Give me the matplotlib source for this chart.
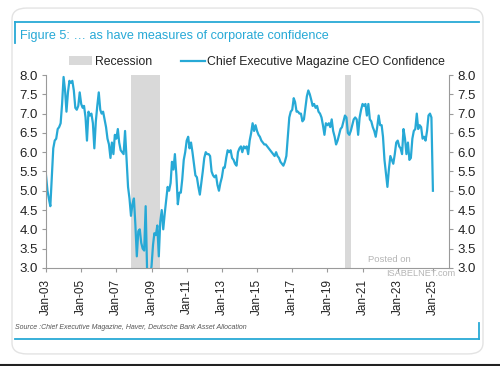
import matplotlib
matplotlib.use('Agg')
import matplotlib.pyplot as plt
import matplotlib.dates as mdates
from matplotlib.patches import FancyBboxPatch, Patch
from matplotlib.lines import Line2D
import pandas as pd

plt.rcParams['font.family'] = ['Liberation Sans', 'DejaVu Sans']

# monthly CEO confidence, Jan 2003 onwards (one row per year)
ceo_2003 = [5.4, 5.0, 4.8, 4.6, 5.35, 6.1, 6.3, 6.35, 6.6, 6.65, 6.75, 7.25]
ceo_2004 = [7.95, 7.6, 7.05, 7.55, 7.85, 7.8, 7.85, 7.6, 7.15, 7.1, 7.2, 7.55]
ceo_2005 = [7.25, 7.15, 7.2, 6.9, 6.3, 7.05, 6.95, 7.0, 6.75, 6.1, 6.8, 7.2]
ceo_2006 = [7.55, 7.1, 7.0, 7.05, 6.85, 6.65, 6.35, 6.2, 5.85, 6.25, 5.95, 6.45]
ceo_2007 = [6.35, 6.6, 6.25, 6.05, 6.0, 5.95, 6.55, 5.8, 5.1, 4.8, 4.35, 4.65]
ceo_2008 = [4.8, 4.1, 3.3, 3.95, 4.0, 3.65, 3.5, 3.45, 4.6, 2.9, 2.7, 2.75]
ceo_2009 = [3.05, 3.6, 3.9, 3.85, 4.1, 3.3, 4.2, 4.5, 4.0, 4.4, 4.75, 5.1]
ceo_2010 = [5.0, 5.2, 5.75, 5.55, 5.95, 5.4, 4.65, 4.95, 4.95, 5.3, 5.8, 6.0]
ceo_2011 = [6.3, 6.4, 6.1, 6.25, 6.0, 5.7, 5.4, 5.35, 5.1, 4.9, 5.2, 5.5]
ceo_2012 = [5.85, 6.0, 5.95, 5.95, 5.9, 5.5, 5.4, 5.35, 5.4, 5.15, 5.0, 5.2]
ceo_2013 = [5.35, 5.6, 5.6, 5.85, 6.05, 6.0, 6.05, 5.85, 5.8, 5.7, 5.65, 6.0]
ceo_2014 = [6.1, 6.15, 6.0, 6.15, 6.1, 6.15, 5.95, 6.3, 6.5, 6.75, 6.55, 6.7]
ceo_2015 = [6.55, 6.45, 6.4, 6.3, 6.25, 6.2, 6.2, 6.15, 6.1, 6.05, 6.0, 5.95]
ceo_2016 = [5.9, 6.0, 5.9, 5.85, 5.75, 5.7, 5.65, 5.75, 5.9, 6.4, 6.9, 7.05]
ceo_2017 = [7.1, 7.4, 7.3, 7.05, 7.05, 7.0, 7.0, 6.8, 6.85, 7.15, 7.45, 7.6]
ceo_2018 = [7.5, 7.35, 7.2, 7.25, 7.15, 7.2, 7.05, 7.0, 6.9, 6.7, 6.45, 6.75]
ceo_2019 = [6.7, 6.75, 6.65, 6.85, 6.55, 6.4, 6.2, 6.3, 6.45, 6.6, 6.65, 6.8]
ceo_2020 = [6.95, 6.9, 6.5, 6.45, 6.55, 6.7, 6.85, 6.9, 6.85, 6.45, 6.9, 7.1]
ceo_2021 = [7.25, 7.2, 7.25, 6.95, 7.25, 6.85, 6.8, 6.65, 6.55, 6.4, 6.65, 6.95]
ceo_2022 = [6.7, 6.7, 6.4, 5.8, 5.45, 5.1, 5.55, 5.9, 5.8, 5.7, 5.95, 6.25]
ceo_2023 = [6.3, 6.15, 6.1, 5.95, 6.6, 6.35, 5.95, 6.25, 5.8, 5.85, 6.35, 6.55]
ceo_2024 = [6.6, 7.0, 6.6, 6.7, 6.65, 6.35, 6.4, 6.3, 6.55, 6.95, 7.0, 6.9]
ceo_2025 = [5.0]

recessions = [('2007-11-01', '2009-07-01'), ('2020-01-01', '2020-05-01')]
y_ticks = [3.0, 3.5, 4.0, 4.5, 5.0, 5.5, 6.0, 6.5, 7.0, 7.5, 8.0]
x_tick_years = [2003, 2005, 2007, 2009, 2011, 2013, 2015, 2017, 2019, 2021, 2023, 2025]

ceo = (ceo_2003 + ceo_2004 + ceo_2005 + ceo_2006 + ceo_2007 + ceo_2008
       + ceo_2009 + ceo_2010 + ceo_2011 + ceo_2012 + ceo_2013 + ceo_2014
       + ceo_2015 + ceo_2016 + ceo_2017 + ceo_2018 + ceo_2019 + ceo_2020
       + ceo_2021 + ceo_2022 + ceo_2023 + ceo_2024 + ceo_2025)
dates = pd.date_range('2003-01-01', periods=len(ceo), freq='MS')

blue = '#27a9d6'
dark = '#222222'

fig = plt.figure(figsize=(5.0, 3.66), dpi=100)

# card frame, kept behind the axes
card = FancyBboxPatch((0.024, 0.033), 0.942, 0.945,
                      boxstyle='round,pad=0,rounding_size=0.03',
                      transform=fig.transFigure, facecolor='white',
                      edgecolor='#e3e3e3', linewidth=1.0, zorder=-10)
fig.patches.append(card)
fig.add_artist(Line2D([0, 1], [0.002, 0.002], color='#222222', lw=1.5,
                      transform=fig.transFigure))

# blue rules around the figure block
fig.add_artist(Line2D([0.030, 0.958], [0.940, 0.940], color=blue, lw=1.3,
                      transform=fig.transFigure))
fig.add_artist(Line2D([0.030, 0.030], [0.940, 0.882], color=blue, lw=1.3,
                      transform=fig.transFigure))
fig.add_artist(Line2D([0.030, 0.958], [0.074, 0.074], color=blue, lw=1.3,
                      transform=fig.transFigure))
fig.add_artist(Line2D([0.958, 0.958], [0.074, 0.118], color=blue, lw=1.3,
                      transform=fig.transFigure))

fig.text(0.040, 0.902, 'Figure 5: \u2026 as have measures of corporate confidence',
         color=blue, fontsize=9.1, va='center', ha='left')
fig.text(0.030, 0.104, 'Source :Chief Executive Magazine, Haver, Deutsche Bank Asset Allocation',
         color='#555555', fontsize=5.0, style='italic', va='center', ha='left')

ax = fig.add_axes([0.092, 0.268, 0.806, 0.527])

for start, end in recessions:
    ax.axvspan(pd.Timestamp(start), pd.Timestamp(end), color='#d9d9d9', lw=0)

ax.plot(dates, ceo, color=blue, lw=1.6, solid_joinstyle='round')

ax.set_ylim(3.0, 8.0)
ax.set_xlim(pd.Timestamp('2003-01-01'), pd.Timestamp('2025-12-01'))
ax.set_yticks(y_ticks)
ax.set_yticklabels([f'{v:.1f}' for v in y_ticks])
ax.set_xticks([pd.Timestamp(year=y, month=1, day=1) for y in x_tick_years])
ax.xaxis.set_major_formatter(mdates.DateFormatter('%b-%y'))

ax.spines['top'].set_visible(False)
for side in ['left', 'right', 'bottom']:
    ax.spines[side].set_color('#9a9a9a')
    ax.spines[side].set_linewidth(0.8)

ax.tick_params(axis='y', left=True, right=True, labelleft=True, labelright=True,
               length=3, width=0.8, color='#9a9a9a', labelsize=9.5,
               labelcolor=dark, pad=3)
ax.tick_params(axis='x', length=3, width=0.8, color='#9a9a9a', labelsize=8.5,
               labelcolor=dark, labelrotation=90, pad=5)

# legend
handles = [Patch(facecolor='#d9d9d9', edgecolor='none', label='Recession'),
           Line2D([], [], color=blue, lw=1.6,
                  label='Chief Executive Magazine CEO Confidence')]
fig.legend(handles=handles, loc='center', bbox_to_anchor=(0.514, 0.831),
           ncol=2, frameon=False, fontsize=8.8, handlelength=1.9,
           handletextpad=0.2, columnspacing=2.4, labelcolor=dark)

# watermark
fig.text(0.735, 0.292, 'Posted on', color='#b5b5b5', fontsize=6.8, ha='left', va='center')
fig.text(0.772, 0.254, 'ISABELNET.com', color='#b5b5b5', fontsize=6.6, ha='left', va='center')

fig.savefig('out.png', dpi=100)
